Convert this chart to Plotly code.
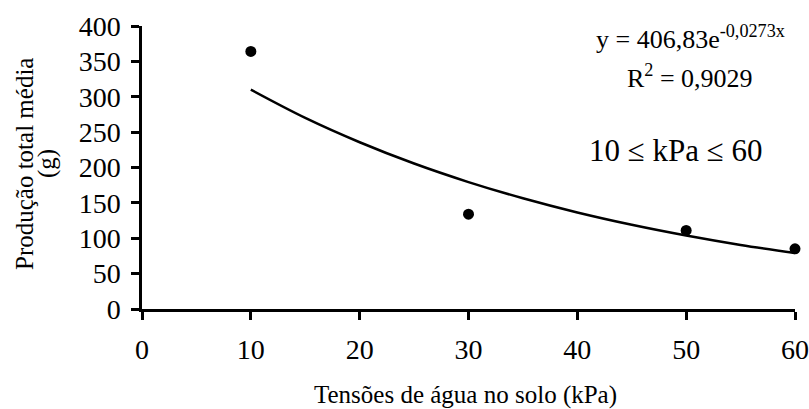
import plotly.graph_objects as go

# Observed data (kPa, g)
tension = [10, 30, 50, 60]
production = [364, 134, 111, 85]

# Trend line (exponential fit shown in the equation)
trend_x = [10, 15, 20, 25, 30, 35, 40, 45, 50, 55, 60]
trend_y = [310.0, 270.1, 235.7, 205.6, 179.4, 156.5, 136.5, 119.1, 103.9, 90.6, 79.1]

x_ticks = [0, 10, 20, 30, 40, 50, 60]
y_ticks = [0, 50, 100, 150, 200, 250, 300, 350, 400]

FONT = "Liberation Serif"
W, H = 809, 409
ML, MR, MT, MB = 142, 14, 26, 100
PW, PH = W - ML - MR, H - MT - MB

fig = go.Figure()
fig.add_trace(go.Scatter(x=trend_x, y=trend_y, mode="lines", line=dict(color="black", width=2.5, shape="spline"),
                         showlegend=False, hoverinfo="skip", cliponaxis=False))
fig.add_trace(go.Scatter(x=tension, y=production, mode="markers",
                         marker=dict(color="black", size=11), showlegend=False, cliponaxis=False))

fig.update_layout(
    width=W, height=H,
    margin=dict(l=ML, r=MR, t=MT, b=MB, autoexpand=False),
    paper_bgcolor="white", plot_bgcolor="white",
    font=dict(family=FONT, size=25, color="black"),
    xaxis=dict(range=[0, 60], tickvals=x_ticks, ticks="outside", ticklen=8, tickwidth=2.5,
               tickcolor="black", showline=True, linecolor="black", linewidth=2.5,
               showgrid=False, zeroline=False, tickfont=dict(size=28), ticklabelstandoff=6),
    yaxis=dict(range=[0, 400], tickvals=y_ticks, ticks="outside", ticklen=8, tickwidth=2.5,
               tickcolor="black", showline=True, linecolor="black", linewidth=2.5,
               showgrid=False, zeroline=False, tickfont=dict(size=28), ticklabelstandoff=5),
)

def px(xp, yp):
    # window pixels -> plot-area (paper) fractions
    return (xp - ML) / PW, 1 - (yp - MT) / PH

annots = [
    dict(text="Tensões de água no solo (kPa)", pos=(465, 395), size=25, angle=0),
    dict(text="Produção total média", pos=(24, 164), size=25, angle=-90),
    dict(text="(g)", pos=(47, 164), size=25, angle=-90),
    dict(text="y = 406,83e<sup>-0,0273x</sup>", pos=(690, 38), size=26, angle=0),
    dict(text="R<sup>2</sup> = 0,9029", pos=(690, 76), size=26, angle=0),
    dict(text="10 ≤ kPa ≤ 60", pos=(676, 150), size=31, angle=0),
]
for a in annots:
    xx, yy = px(*a["pos"])
    fig.add_annotation(text=a["text"], x=xx, y=yy, xref="paper", yref="paper",
                       xanchor="center", yanchor="middle", showarrow=False,
                       textangle=a["angle"], font=dict(family=FONT, size=a["size"], color="black"))

fig.write_html("out.html", config={"displayModeBar": False},
               post_script="document.body.style.margin='0';document.body.style.padding='0';document.body.style.overflow='hidden';")
